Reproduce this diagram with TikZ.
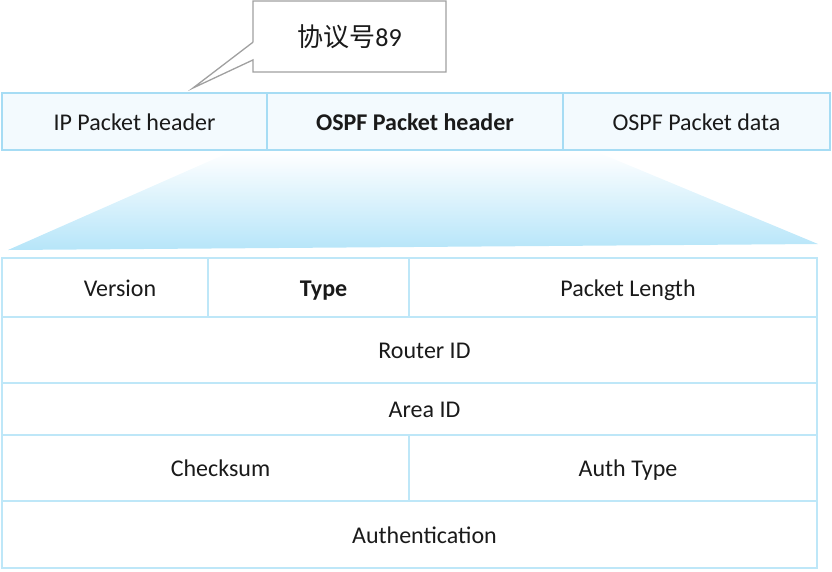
\documentclass[tikz,border=0pt]{standalone}
\usepackage{fontspec}
\setmainfont{Carlito}
\newfontfamily\cjkfont{Noto Sans CJK SC}
\usetikzlibrary{calc,positioning}
\definecolor{pktink}{HTML}{1A1A1A}
\definecolor{pktline}{HTML}{A6DCF4}
\definecolor{pktfill}{HTML}{F3FAFE}
\definecolor{fieldline}{HTML}{BEE7F8}
\definecolor{zoomblue}{HTML}{B6E5F9}
\definecolor{calloutline}{HTML}{A0A0A0}
\tikzset{
  pkttext/.style={font=\fontsize{24}{28}\selectfont, text=pktink,
    text height=17pt, text depth=0pt},
  pktcell/.style={draw=pktline, fill=pktfill, line width=2pt, outer sep=0pt,
    inner sep=0pt, minimum height=57pt, pkttext},
  fieldcell/.style={draw=fieldline, fill=white, line width=2pt, outer sep=0pt,
    inner sep=0pt},
  fieldlabel/.style={pkttext, xshift=15pt},
  calloutbox/.style={minimum width=193pt, minimum height=71pt, inner sep=0pt,
    outer sep=0pt, font=\fontsize{26}{30}\selectfont, text=pktink}
}
\begin{document}
\begin{tikzpicture}[x=1pt,y=-1pt]
  \useasboundingbox (0,0) rectangle (832,571);
  % packet: IP header, OSPF header, OSPF data
  \node[pktcell, minimum width=265pt, anchor=north west] (iphdr) at (2,93) {IP Packet header};
  \node[pktcell, minimum width=296pt, right=0pt of iphdr, font=\fontsize{24}{28}\selectfont\bfseries] (ospfhdr) {OSPF Packet header};
  \node[pktcell, minimum width=267pt, right=0pt of ospfhdr] (ospfdata) {OSPF Packet data};

  % callout on the IP header
  \node[calloutbox, anchor=north west] (proto) at (253,1) {\cjkfont 协议号\fontspec{Carlito}89};
  \coordinate (tip) at (193,88);
  \draw[calloutline, line width=1.3pt]
    ($(proto.north west)!.58!(proto.south west)$) -- (tip)
    -- ($(proto.north west)!.83!(proto.south west)$) -- (proto.south west)
    -- (proto.south east) -- (proto.north east) -- (proto.north west)
    -- ($(proto.north west)!.58!(proto.south west)$);

  % zoom from the OSPF header to its fields
  \shade[top color=white, middle color=zoomblue!75!white, bottom color=zoomblue]
    (230,152) -- (597,152) -- (818,244) -- (8,250) -- cycle;

  % OSPF header fields
  \node[fieldcell, minimum width=206pt, minimum height=59pt, anchor=north west,
    label={[fieldlabel]center:Version}] (version) at (2,258) {};
  \node[fieldcell, minimum width=201pt, minimum height=59pt, right=0pt of version,
    label={[fieldlabel, font=\fontsize{24}{28}\selectfont\bfseries]center:Type}] (type) {};
  \node[fieldcell, minimum width=408pt, minimum height=59pt, right=0pt of type,
    label={[fieldlabel]center:Packet Length}] (pktlen) {};
  \node[fieldcell, minimum width=815pt, minimum height=66pt, anchor=north west,
    label={[fieldlabel]center:Router ID}] (routerid) at (version.south west) {};
  \node[fieldcell, minimum width=815pt, minimum height=52pt, below=0pt of routerid,
    label={[fieldlabel]center:Area ID}] (areaid) {};
  \node[fieldcell, minimum width=407pt, minimum height=66pt, anchor=north west,
    label={[fieldlabel]center:Checksum}] (checksum) at (areaid.south west) {};
  \node[fieldcell, minimum width=408pt, minimum height=66pt, right=0pt of checksum,
    label={[fieldlabel]center:Auth Type}] (authtype) {};
  \node[fieldcell, minimum width=815pt, minimum height=67pt, anchor=north west,
    label={[fieldlabel]center:Authentication}] (auth) at (checksum.south west) {};
\end{tikzpicture}
\end{document}
